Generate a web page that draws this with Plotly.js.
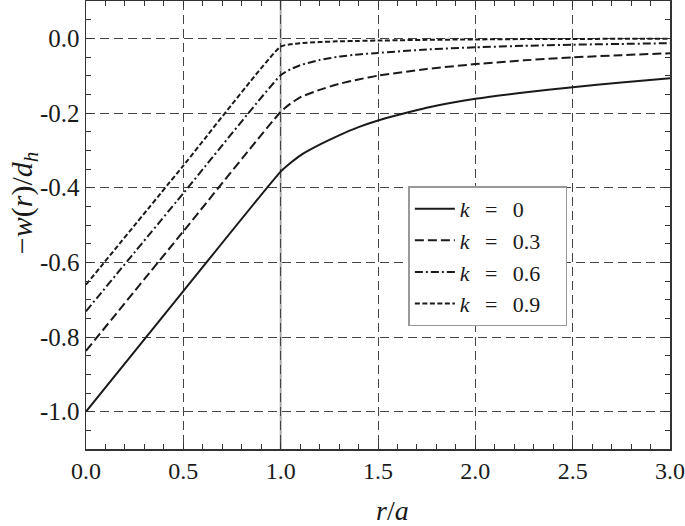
<!DOCTYPE html>
<html>
<head>
<meta charset="utf-8">
<script src="https://cdn.plot.ly/plotly-3.0.1.min.js"></script>
<style>
  html, body { margin: 0; padding: 0; background: #fff; }
  #chart { width: 685px; height: 526px; }
</style>
</head>
<body>
<div id="chart"></div>
<script>
// r/a positions (linear inside the hole, then the far field)
const r = [0, 0.5, 1, 1.05, 1.1, 1.2, 1.3, 1.4, 1.5, 1.75, 2.0, 2.25, 2.5, 2.75, 3.0];

const k0 = [-1.0, -0.677, -0.357, -0.334, -0.314, -0.285, -0.26, -0.238, -0.22, -0.186, -0.162, -0.145, -0.131, -0.118, -0.107];
const k03 = [-0.837, -0.517, -0.197, -0.175, -0.158, -0.138, -0.122, -0.11, -0.1, -0.082, -0.069, -0.059, -0.051, -0.045, -0.04];
const k06 = [-0.731, -0.415, -0.099, -0.083, -0.072, -0.058, -0.049, -0.043, -0.039, -0.03, -0.024, -0.02, -0.017, -0.015, -0.013];
const k09 = [-0.66, -0.341, -0.022, -0.016, -0.013, -0.01, -0.008, -0.007, -0.006, -0.004, -0.003, -0.002, -0.002, -0.001, -0.001];

// wide spaces round "=" like the typeset original, a bit of padding at the end
const sp = "\u2002\u2009";
const tail = "\u2002\u2009\u2009";
const names = [
  "<i>k</i>" + sp + "=" + sp + "0" + tail,
  "<i>k</i>" + sp + "=" + sp + "0.3" + tail,
  "<i>k</i>" + sp + "=" + sp + "0.6" + tail,
  "<i>k</i>" + sp + "=" + sp + "0.9" + tail,
];

const xTicks = [0, 0.5, 1, 1.5, 2, 2.5, 3];
const xLabels = ["0.0", "0.5", "1.0", "1.5", "2.0", "2.5", "3.0"];
const yTicks = [0, -0.2, -0.4, -0.6, -0.8, -1.0];
const yLabels = ["0.0", "-0.2", "-0.4", "-0.6", "-0.8", "-1.0"];

const xTitle = "<i>r</i>/<i>a</i>";
const yTitle = "−<i>w</i>(<i>r</i>)/<i>d<sub>h</sub></i>";

const serif = "Liberation Serif";
const ink = "#1a1a1a";

const line = (y, name, dash) => ({
  type: "scatter",
  mode: "lines",
  x: r,
  y: y,
  name: name,
  line: { color: ink, width: 2, dash: dash, shape: "spline", smoothing: 0.5 },
});

const data = [
  line(k0, names[0], "solid"),
  line(k03, names[1], "9px,4px"),
  line(k06, names[2], "8px,3px,2px,3px"),
  line(k09, names[3], "5px,2.5px"),
];

const axisBase = {
  showline: true,
  linecolor: "#333",
  linewidth: 1.5,
  mirror: "allticks",
  ticks: "inside",
  ticklen: 6,
  tickcolor: "#333",
  tickwidth: 1,
  tickmode: "array",
  showgrid: true,
  gridcolor: "#444",
  gridwidth: 1,
  griddash: "9px,5px",
  zeroline: false,
};

const layout = {
  width: 685,
  height: 526,
  margin: { l: 86, r: 15, t: 1, b: 77 },
  paper_bgcolor: "#fff",
  plot_bgcolor: "#fff",
  showlegend: true,
  font: { family: serif, color: ink, size: 24 },
  xaxis: Object.assign({}, axisBase, {
    range: [0, 3],
    tickvals: xTicks,
    ticktext: xLabels,
    tickfont: { family: serif, size: 24, color: ink },
    minor: { tickmode: "linear", tick0: 0, dtick: 0.1, ticks: "inside", ticklen: 5, tickcolor: "#333", showgrid: false },
  }),
  yaxis: Object.assign({}, axisBase, {
    range: [-1.1, 0.1],
    tickvals: yTicks,
    ticktext: yLabels,
    tickfont: { family: serif, size: 25, color: ink },
    minor: { tickmode: "linear", tick0: 0, dtick: 0.05, ticks: "inside", ticklen: 5, tickcolor: "#333", showgrid: false },
  }),
  // axis titles as annotations so they sit where the original has them
  annotations: [
    {
      text: xTitle, xref: "paper", yref: "paper", x: 0.524, y: -0.138,
      xanchor: "center", yanchor: "middle", showarrow: false,
      font: { family: serif, size: 28, color: ink },
    },
    {
      text: yTitle, xref: "paper", yref: "paper", x: -0.106, y: 0.549,
      xanchor: "center", yanchor: "middle", showarrow: false, textangle: -90,
      font: { family: serif, size: 30, color: ink },
    },
  ],
  shapes: [
    {
      type: "line", xref: "x", yref: "paper", x0: 1, x1: 1, y0: 0, y1: 1,
      line: { color: "#aaa", width: 2 }, layer: "between",
    },
  ],
  legend: {
    x: 0.552,
    y: 0.586,
    xanchor: "left",
    yanchor: "top",
    bgcolor: "#fff",
    bordercolor: "#999",
    borderwidth: 1.5,
    font: { family: serif, size: 22, color: ink },
    itemwidth: 40,
    tracegroupgap: 0,
  },
};

Plotly.newPlot("chart", data, layout, { displayModeBar: false, staticPlot: true });
</script>
</body>
</html>
